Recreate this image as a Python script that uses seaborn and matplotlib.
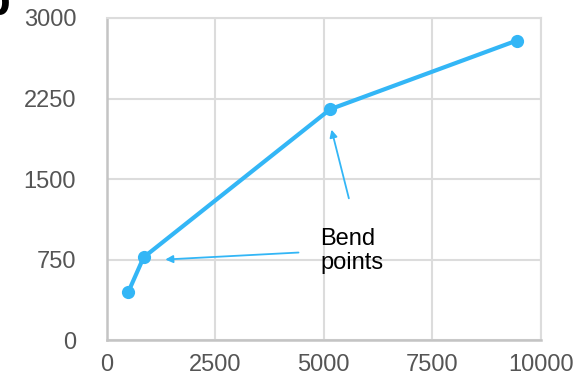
import matplotlib
matplotlib.use("Agg")
import matplotlib.pyplot as plt
import seaborn as sns
import pandas as pd

# points
x_vals = [500, 850, 5150, 9450]
y_vals = [450, 770, 2150, 2790]
x_ticks = [0, 2500, 5000, 7500, 10000]
y_ticks = [0, 750, 1500, 2250, 3000]

df = pd.DataFrame({"x": x_vals, "y": y_vals})

sns.set_style("white")
plt.rcParams["font.family"] = ["Liberation Sans", "DejaVu Sans"]

blue = "#33b6f6"
fig = plt.figure(figsize=(5.88, 3.75), dpi=100)
ax = fig.add_axes([0.1815, 0.0933, 0.738, 0.8587])

sns.lineplot(data=df, x="x", y="y", ax=ax, color=blue, linewidth=3,
             marker="o", markersize=9.5, markeredgewidth=0)

ax.set_xlim(0, 10000)
ax.set_ylim(0, 3000)
ax.set_xticks(x_ticks)
ax.set_yticks(y_ticks)
ax.set_xlabel("")
ax.set_ylabel("")
ax.grid(True, color="#dcdcdc", linewidth=1.5)
ax.set_axisbelow(True)
for side in ["top", "right"]:
    ax.spines[side].set_color("#dcdcdc")
    ax.spines[side].set_linewidth(1.5)
for side in ["left", "bottom"]:
    ax.spines[side].set_color("#c4c4c4")
    ax.spines[side].set_linewidth(1.8)
ax.tick_params(axis="both", length=0, labelsize=17, labelcolor="#555555")
ax.tick_params(axis="y", pad=22)
ax.tick_params(axis="x", pad=10)

# annotation
ax.text(4915, 830, "Bend\npoints", fontsize=17, color="black",
        ha="left", va="center", linespacing=1.1)
ax.annotate("", xy=(1350, 750), xytext=(4420, 815),
            arrowprops=dict(arrowstyle="-|>", color=blue, lw=1.3,
                            mutation_scale=11, shrinkA=0, shrinkB=0))
ax.annotate("", xy=(5180, 1960), xytext=(5580, 1320),
            arrowprops=dict(arrowstyle="-|>", color=blue, lw=1.3,
                            mutation_scale=11, shrinkA=0, shrinkB=0))

# cut-off panel letter in the corner
fig.text(-0.03, 0.96, "b", fontsize=34, fontweight="bold", color="black",
         ha="left", va="baseline")

fig.savefig("out.png", dpi=100)
